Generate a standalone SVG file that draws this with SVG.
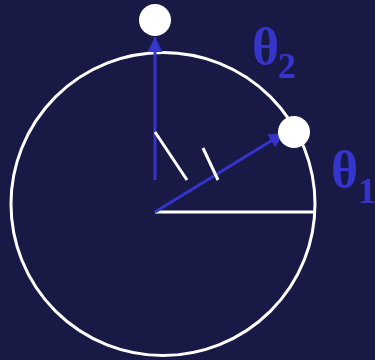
<svg xmlns="http://www.w3.org/2000/svg" width="375" height="360" viewBox="0 0 375 360">
<style>
.w{stroke:#ffffff;stroke-width:3;fill:none}
.b{stroke:#3535cc;stroke-width:3;fill:none}
.dot{fill:#ffffff}
.t{font-family:"Liberation Serif",serif;fill:#3535cc;font-weight:bold}
</style>
<defs>
<marker id="ah" markerWidth="16" markerHeight="16" refX="15" refY="7.5" orient="auto" markerUnits="userSpaceOnUse">
<path d="M0,0 L15,7.5 L0,15 Z" fill="#3535cc"/>
</marker>
</defs>
<rect width="375" height="360" fill="#191946"/>
<g id="circle"><ellipse cx="163" cy="204" rx="152" ry="151.5" class="w"/></g>
<g id="connectors">
<line x1="155" y1="212" x2="315" y2="212" class="w"/>
<line x1="155" y1="180" x2="155" y2="37" class="b" marker-end="url(#ah)"/>
<line x1="155" y1="212" x2="284" y2="133" class="b" marker-end="url(#ah)"/>
<line x1="155" y1="132" x2="187" y2="180" class="w"/>
<line x1="203" y1="148" x2="218" y2="180" class="w"/>
</g>
<g id="dot-top"><circle cx="155" cy="20" r="16" class="dot"/></g>
<g id="dot-right"><circle cx="294" cy="132" r="16" class="dot"/></g>
<g id="theta2"><text class="t" x="252" y="64" font-size="52">θ<tspan font-size="36" x="278" y="78">2</tspan></text></g>
<g id="theta1"><text class="t" x="331" y="187" font-size="52">θ<tspan font-size="36" x="358" y="203">1</tspan></text></g>
</svg>
